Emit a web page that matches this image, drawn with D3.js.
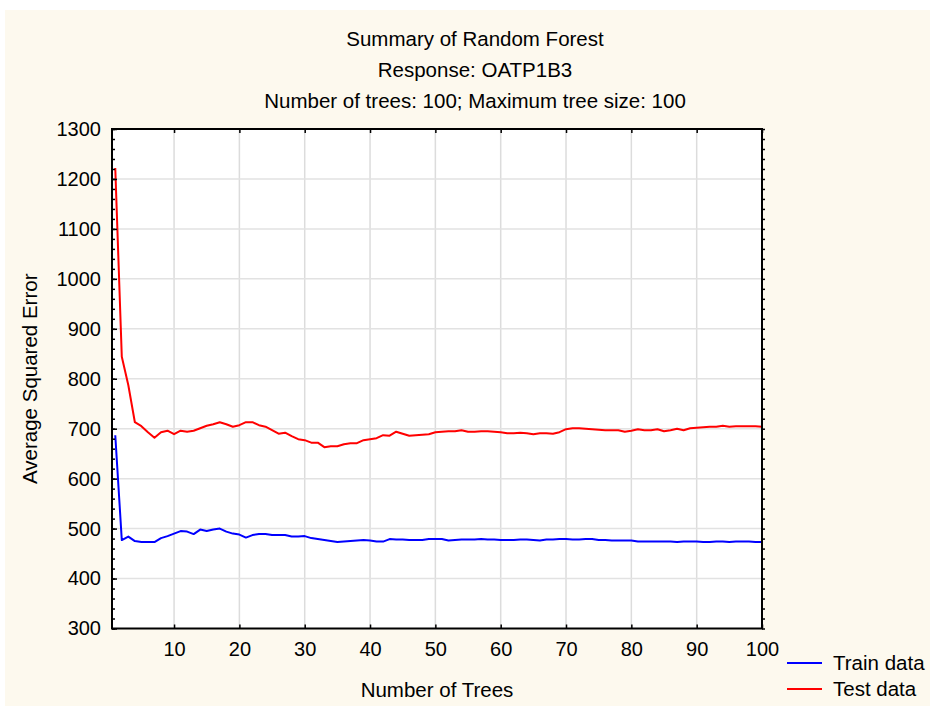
<!DOCTYPE html>
<html>
<style>
body { margin: 0; background: #ffffff; }
text { font-family: "Liberation Sans", Arial, sans-serif; fill: #000; }
</style>
<head>
  <title>Summary of Random Forest</title>
</head>
<body>
  <script type="text/javascript" src="https://d3js.org/d3.v7.min.js" charset="utf-8"></script>
  <script type="text/javascript">
  'use strict'

  const titleLines = ['Summary of Random Forest', 'Response: OATP1B3', 'Number of trees: 100; Maximum tree size: 100']
  const xLabel = 'Number of Trees'
  const yLabel = 'Average Squared Error'
  const seriesNames = ['Train data', 'Test data']

  const xTicks = [10, 20, 30, 40, 50, 60, 70, 80, 90, 100]
  const yTicks = [300, 400, 500, 600, 700, 800, 900, 1000, 1100, 1200, 1300]

  // average squared error per number of trees (1..100)
  const trainData = [
    687, 477, 484, 475, 473, 473, 473, 481, 485, 490,
    495, 494, 489, 498, 495, 498, 500, 494, 490, 488,
    482, 487, 489, 489, 487, 487, 487, 484, 484, 485,
    481, 479, 477, 475, 473, 474, 475, 476, 477, 476,
    474, 474, 479, 478, 478, 477, 477, 477, 479, 479,
    479, 476, 477, 478, 478, 478, 479, 478, 478, 477,
    477, 477, 478, 478, 477, 476, 478, 478, 479, 479,
    478, 478, 479, 479, 477, 477, 476, 476, 476, 476,
    474, 474, 474, 474, 474, 474, 473, 474, 474, 474,
    473, 473, 474, 474, 473, 474, 474, 474, 473, 473
  ]
  const testData = [
    1222, 844, 787, 713, 705, 693, 682, 693, 696, 689,
    696, 694, 696, 701, 706, 709, 713, 709, 704, 707,
    713, 713, 707, 704, 697, 690, 692, 685, 679, 677,
    672, 672, 663, 665, 665, 669, 671, 671, 677, 679,
    681, 687, 686, 694, 690, 686, 687, 688, 689, 693,
    694, 695, 695, 697, 694, 694, 695, 695, 694, 693,
    691, 691, 692, 691, 689, 691, 691, 690, 693, 699,
    701, 701, 700, 699, 698, 697, 697, 697, 694, 696,
    699, 697, 697, 699, 695, 697, 700, 697, 701, 702,
    703, 704, 704, 706, 704, 705, 705, 705, 705, 704
  ]
  const colors = ['#0000ff', '#ff0000']

  const W = 930
  const H = 706
  const pL = 112, pR = 762, pT = 129, pB = 628.5

  const svg = d3.select('body')
    .append('svg')
    .attr('width', W)
    .attr('height', H)

  // cream panel
  svg.append('rect')
    .attr('x', 5).attr('y', 10)
    .attr('width', W - 5).attr('height', H - 10)
    .attr('fill', '#fdf9ee')

  const x = d3.scaleLinear().domain([0.5, 100]).range([pL, pR])
  const y = d3.scaleLinear().domain([300, 1300]).range([pB, pT])

  svg.append('rect')
    .attr('x', pL).attr('y', pT)
    .attr('width', pR - pL).attr('height', pB - pT)
    .attr('fill', '#ffffff')

  // grid
  svg.append('g')
    .selectAll('line')
    .data(xTicks.slice(0, -1))
    .enter()
    .append('line')
    .attr('x1', d => x(d)).attr('x2', d => x(d))
    .attr('y1', pT).attr('y2', pB)
    .attr('stroke', '#dcdcdc').attr('stroke-width', 1.5)

  svg.append('g')
    .selectAll('line')
    .data(yTicks.slice(1, -1))
    .enter()
    .append('line')
    .attr('x1', pL).attr('x2', pR)
    .attr('y1', d => y(d)).attr('y2', d => y(d))
    .attr('stroke', '#e2e2e2').attr('stroke-width', 1.5)

  // series
  const line = d3.line()
    .x((d, i) => x(i + 1))
    .y(d => y(d))

  ;[trainData, testData].forEach((ser, k) => {
    svg.append('path')
      .datum(ser)
      .attr('d', line)
      .attr('fill', 'none')
      .attr('stroke', colors[k])
      .attr('stroke-width', 2)
      .attr('stroke-linejoin', 'round')
  })

  // axes (ticks only, frame drawn separately)
  const minorY = d3.range(300, 1301, 20)

  function styleAxis(g) {
    g.select('.domain').remove()
    g.selectAll('line').attr('stroke', '#000').attr('stroke-width', 1.5)
    g.selectAll('text')
      .attr('font-family', '"Liberation Sans", Arial, sans-serif')
      .attr('font-size', '20px')
      .attr('fill', '#000')
  }

  svg.append('g')
    .attr('transform', `translate(${pL},0)`)
    .call(d3.axisLeft(y).tickValues(minorY).tickSize(-3).tickFormat(''))
    .call(styleAxis)

  svg.append('g')
    .attr('transform', `translate(${pL},0)`)
    .call(d3.axisLeft(y).tickValues(yTicks).tickSize(-5).tickPadding(11).tickFormat(d3.format('d')))
    .call(styleAxis)

  svg.append('g')
    .attr('transform', `translate(${pR},0)`)
    .call(d3.axisRight(y).tickValues(minorY).tickSize(3).tickFormat(''))
    .call(styleAxis)

  svg.append('g')
    .attr('transform', `translate(0,${pT})`)
    .call(d3.axisTop(x).tickValues(xTicks).tickSize(-4).tickFormat(''))
    .call(styleAxis)

  svg.append('g')
    .attr('transform', `translate(0,${pB})`)
    .call(d3.axisBottom(x).tickValues(xTicks).tickSize(-4).tickPadding(13).tickFormat(d3.format('d')))
    .call(styleAxis)

  // frame
  svg.append('rect')
    .attr('x', pL).attr('y', pT)
    .attr('width', pR - pL).attr('height', pB - pT)
    .attr('fill', 'none')
    .attr('stroke', '#000')
    .attr('stroke-width', 2)

  // titles
  svg.append('g')
    .selectAll('text')
    .data(titleLines)
    .enter()
    .append('text')
    .text(d => d)
    .attr('x', 475)
    .attr('y', (d, i) => 46 + i * 31)
    .attr('text-anchor', 'middle')
    .attr('font-size', '20.5px')

  svg.append('text')
    .text(xLabel)
    .attr('x', (pL + pR) / 2)
    .attr('y', 697)
    .attr('text-anchor', 'middle')
    .attr('font-size', '20.5px')

  svg.append('text')
    .text(yLabel)
    .attr('transform', `translate(37,${(pT + pB) / 2}) rotate(-90)`)
    .attr('text-anchor', 'middle')
    .attr('font-size', '20.5px')

  // legend
  const legend = svg.append('g')
    .selectAll('g')
    .data(seriesNames)
    .enter()
    .append('g')
    .attr('transform', (d, i) => `translate(787,${663 + i * 26})`)

  legend.append('line')
    .attr('x1', 0).attr('x2', 35)
    .attr('y1', 0).attr('y2', 0)
    .attr('stroke', (d, i) => colors[i])
    .attr('stroke-width', 2)

  legend.append('text')
    .text(d => d)
    .attr('x', 46)
    .attr('y', 7)
    .attr('font-size', '20.5px')

  </script>
</body>
</html>
